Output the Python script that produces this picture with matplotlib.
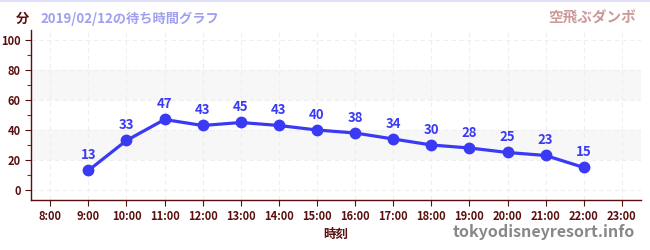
import matplotlib
matplotlib.use("Agg")
import matplotlib.pyplot as plt
from matplotlib.ticker import MultipleLocator

plt.rcParams['font.family'] = ['Noto Sans CJK JP', 'DejaVu Sans']

hours = [9, 10, 11, 12, 13, 14, 15, 16, 17, 18, 19, 20, 21, 22]
waits = [13, 33, 47, 43, 45, 43, 40, 38, 34, 30, 28, 25, 23, 15]
tick_hours = list(range(8, 24))
tick_labels = [f"{h}:00" for h in tick_hours]
title = "2019/02/12の待ち時間グラフ"
attraction = "空飛ぶダンボ"

AX = "#5a0f0f"
BLUE = "#3a3af5"

fig = plt.figure(figsize=(6.5, 2.5), dpi=100)
fig.patch.set_facecolor("white")
ax = fig.add_axes([0.048, 0.2, 0.938, 0.68])

ax.set_xlim(7.5, 23.5)
ax.set_ylim(-6.7, 106.7)

# bands
for lo, hi in [(20, 40), (60, 80)]:
    ax.axhspan(lo, hi, color="#f7f7f7", zorder=0, lw=0)
for y in range(0, 101, 20):
    ax.axhline(y, color="#eeeeee", ls=(0, (4, 3)), lw=0.8, zorder=0.5)
for h in tick_hours:
    ax.axvline(h, color="#eeeeee", ls=(0, (4, 3)), lw=0.8, zorder=0.5)

ax.plot(hours, waits, "-o", color=BLUE, lw=2.3, ms=7.5, zorder=3)
for h, w in zip(hours, waits):
    ax.annotate(str(w), (h, w), xytext=(0, 6), textcoords="offset points",
                ha="center", va="bottom", color=BLUE, fontsize=9.5, fontweight="bold")

ax.set_xticks(tick_hours)
ax.set_xticklabels(tick_labels)
ax.set_yticks(range(0, 101, 20))
ax.yaxis.set_minor_locator(MultipleLocator(10))
ax.tick_params(axis="both", colors=AX, labelsize=8, length=4, width=0.8)
ax.tick_params(axis="y", which="minor", colors="#e00000", length=3, width=0.8)
for lab in ax.get_xticklabels() + ax.get_yticklabels():
    lab.set_fontweight("bold")
    lab.set_color(AX)

for s in ["top", "right"]:
    ax.spines[s].set_visible(False)
for s in ["left", "bottom"]:
    ax.spines[s].set_color(AX)
    ax.spines[s].set_linewidth(1.0)

ax.set_xlabel("時刻", color=AX, fontsize=9, fontweight="bold", labelpad=3)

fig.text(0.025, 0.925, "分", color=AX, fontsize=9.5, fontweight="bold", va="center")
fig.text(0.062, 0.925, title, color="#a0a0f0", fontsize=9.5, fontweight="bold", va="center")
fig.text(0.978, 0.93, attraction, color="#cc9999", fontsize=10.5, fontweight="bold",
         va="center", ha="right")
fig.text(0.977, 0.07, "tokyodisneyresort.info", color="#888888", fontsize=11.5,
         fontweight="bold", va="center", ha="right")
fig.add_artist(plt.Line2D([0, 1], [0.996, 0.996], color="#e0e0f8", lw=1.5))

fig.savefig("out.png", dpi=100)
